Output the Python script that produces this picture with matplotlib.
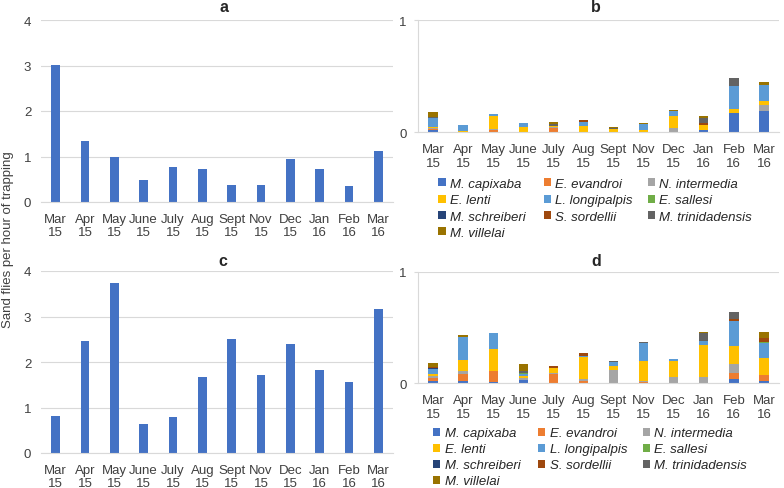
import matplotlib
matplotlib.use("Agg")
import matplotlib.pyplot as plt
import numpy as np
from matplotlib.patches import Patch

plt.rcParams['font.family'] = ['Liberation Sans', 'DejaVu Sans']

months = ["Mar\n15", "Apr\n15", "May\n15", "June\n15", "July\n15", "Aug\n15",
          "Sept\n15", "Nov\n15", "Dec\n15", "Jan\n16", "Feb\n16", "Mar\n16"]

a_values = [3.01, 1.34, 0.98, 0.49, 0.78, 0.72, 0.37, 0.38, 0.95, 0.72, 0.35, 1.13]
c_values = [0.81, 2.46, 3.74, 0.64, 0.79, 1.67, 2.50, 1.72, 2.40, 1.82, 1.55, 3.17]

species = ["M. capixaba", "E. evandroi", "N. intermedia", "E. lenti", "L. longipalpis",
           "E. sallesi", "M. schreiberi", "S. sordellii", "M. trinidadensis", "M. villelai"]
species_colors = ["#4472C4", "#ED7D31", "#A5A5A5", "#FFC000", "#5B9BD5",
                  "#70AD47", "#264478", "#9E480E", "#636363", "#997300"]

# panel b (stacked)
b_capixaba = [0.024, 0, 0, 0.005, 0, 0, 0, 0, 0, 0.018, 0.17, 0.187]
b_evandroi = [0.005, 0, 0.02, 0, 0.035, 0.005, 0, 0, 0, 0, 0, 0]
b_intermedia = [0.008, 0, 0.01, 0, 0.01, 0, 0, 0, 0.039, 0, 0, 0.06]
b_lenti = [0.01, 0.01, 0.116, 0.045, 0.015, 0.05, 0.025, 0.018, 0.104, 0.045, 0.039, 0.036]
b_longipalpis = [0.08, 0.055, 0.018, 0.03, 0, 0.035, 0, 0.054, 0.045, 0, 0.2, 0.134]
b_sallesi = [0, 0, 0, 0, 0, 0, 0, 0, 0, 0, 0, 0]
b_schreiberi = [0, 0, 0, 0, 0, 0, 0, 0, 0, 0, 0, 0]
b_sordellii = [0, 0, 0, 0, 0, 0.018, 0.007, 0, 0, 0.02, 0, 0]
b_trinidadensis = [0.006, 0, 0, 0, 0.01, 0, 0.005, 0, 0.004, 0.045, 0.074, 0]
b_villelai = [0.048, 0, 0, 0, 0.02, 0, 0.008, 0.009, 0.009, 0.015, 0, 0.03]

# panel d (stacked)
d_capixaba = [0.025, 0.02, 0.012, 0.03, 0.005, 0, 0, 0, 0, 0.006, 0.039, 0.021]
d_evandroi = [0.02, 0.065, 0.098, 0, 0.075, 0.02, 0, 0.015, 0, 0, 0.054, 0.05]
d_intermedia = [0.02, 0.024, 0, 0.016, 0.009, 0.015, 0.119, 0.008, 0.057, 0.054, 0.077, 0]
d_lenti = [0.015, 0.104, 0.2, 0.02, 0.045, 0.2, 0.036, 0.176, 0.146, 0.28, 0.164, 0.158]
d_longipalpis = [0.045, 0.202, 0.143, 0.02, 0, 0.01, 0.036, 0.16, 0.018, 0.036, 0.22, 0.134]
d_sallesi = [0, 0, 0, 0.01, 0, 0, 0, 0, 0, 0, 0, 0.009]
d_schreiberi = [0.01, 0, 0, 0, 0, 0, 0, 0, 0, 0, 0, 0]
d_sordellii = [0.015, 0, 0, 0, 0.02, 0.025, 0, 0, 0, 0, 0.018, 0.033]
d_trinidadensis = [0, 0, 0, 0.01, 0, 0, 0.009, 0.012, 0, 0.077, 0.065, 0]
d_villelai = [0.03, 0.015, 0, 0.07, 0, 0, 0, 0, 0, 0.006, 0, 0.054]

b_series = [b_capixaba, b_evandroi, b_intermedia, b_lenti, b_longipalpis,
            b_sallesi, b_schreiberi, b_sordellii, b_trinidadensis, b_villelai]
d_series = [d_capixaba, d_evandroi, d_intermedia, d_lenti, d_longipalpis,
            d_sallesi, d_schreiberi, d_sordellii, d_trinidadensis, d_villelai]

W, H = 784, 489
fig = plt.figure(figsize=(W / 100, H / 100), dpi=100)


def rect(l, t, r, b):
    return [l / W, 1 - b / H, (r - l) / W, (b - t) / H]


GRID = "#D9D9D9"
TXT = "#404040"
x = np.arange(len(months))


def style_left(ax, ymax):
    ax.set_xlim(-0.5, len(months) - 0.5)
    ax.set_ylim(0, ymax)
    ax.set_yticks(range(0, ymax + 1))
    ax.yaxis.grid(True, color=GRID, linewidth=0.8)
    ax.set_axisbelow(True)
    for s in ["top", "right", "left"]:
        ax.spines[s].set_visible(False)
    ax.spines["bottom"].set_color(GRID)
    ax.set_xticks(x)
    ax.set_xticklabels(months, fontsize=9.5, color=TXT, linespacing=1.15)
    ax.tick_params(axis="both", length=0, labelsize=9.5, labelcolor=TXT)
    ax.tick_params(axis="x", pad=8)
    ax.tick_params(axis="y", pad=7)


def style_right(ax):
    ax.set_xlim(-0.5, len(months) - 0.5)
    ax.set_ylim(0, 1)
    ax.set_yticks([0, 1])
    ax.yaxis.grid(True, color=GRID, linewidth=0.8)
    ax.set_axisbelow(True)
    for s in ["top", "right"]:
        ax.spines[s].set_visible(False)
    ax.spines["bottom"].set_color(GRID)
    ax.spines["left"].set_color(GRID)
    ax.set_xticks(x)
    ax.set_xticklabels(months, fontsize=9.5, color=TXT, linespacing=1.15)
    ax.tick_params(axis="x", length=0, pad=8, labelsize=9.5, labelcolor=TXT)
    ax.tick_params(axis="y", length=3, color=GRID, pad=5, labelsize=9.5, labelcolor=TXT)


ax_a = fig.add_axes(rect(41, 21, 393, 203))
ax_a.bar(x, a_values, width=0.3, color="#4472C4")
style_left(ax_a, 4)

ax_c = fig.add_axes(rect(41, 272, 393, 454))
ax_c.bar(x, c_values, width=0.3, color="#4472C4")
style_left(ax_c, 4)


def stacked(ax, series):
    bottom = np.zeros(len(months))
    for vals, col in zip(series, species_colors):
        v = np.array(vals, dtype=float)
        ax.bar(x, v, width=0.31, bottom=bottom, color=col, linewidth=0)
        bottom += v


ax_b = fig.add_axes(rect(418, 21, 779, 133.3))
stacked(ax_b, b_series)
style_right(ax_b)

ax_d = fig.add_axes(rect(418, 272.7, 779, 384.3))
stacked(ax_d, d_series)
style_right(ax_d)

leg_kw = dict(ncol=1, frameon=False, loc="upper left", borderpad=0, borderaxespad=0,
              handlelength=0.55, handleheight=0.55, handletextpad=0.35,
              labelspacing=0.33,
              prop={"style": "italic", "size": 9.5, "family": "Liberation Sans"},
              labelcolor="#262626")
columns = [[0, 3, 6, 9], [1, 4, 7], [2, 5, 8]]


def add_legend(x_lefts, top, spacing=0.33):
    for xl, idxs in zip(x_lefts, columns):
        hs = [Patch(facecolor=species_colors[i], edgecolor="none") for i in idxs]
        ls = [species[i] for i in idxs]
        kw = dict(leg_kw)
        kw["labelspacing"] = spacing
        fig.legend(hs, ls, bbox_to_anchor=(xl / W, 1 - top / H), **kw)


add_legend([438.5, 543.5, 647.5], 179)
add_legend([433, 538, 642.5], 428.5, spacing=0.3)

for lbl, cx, cy in [("a", 224, 8), ("b", 596, 7), ("c", 223, 262), ("d", 596, 261)]:
    fig.text(cx / W, 1 - cy / H, lbl, ha="center", va="center",
             fontsize=11.5, fontweight="bold", color="#262626")

fig.text(8 / W, 1 - 240 / H, "Sand flies per hour of trapping", rotation=90,
         ha="center", va="center", fontsize=9.5, color=TXT)

fig.savefig("out.png", dpi=100)
